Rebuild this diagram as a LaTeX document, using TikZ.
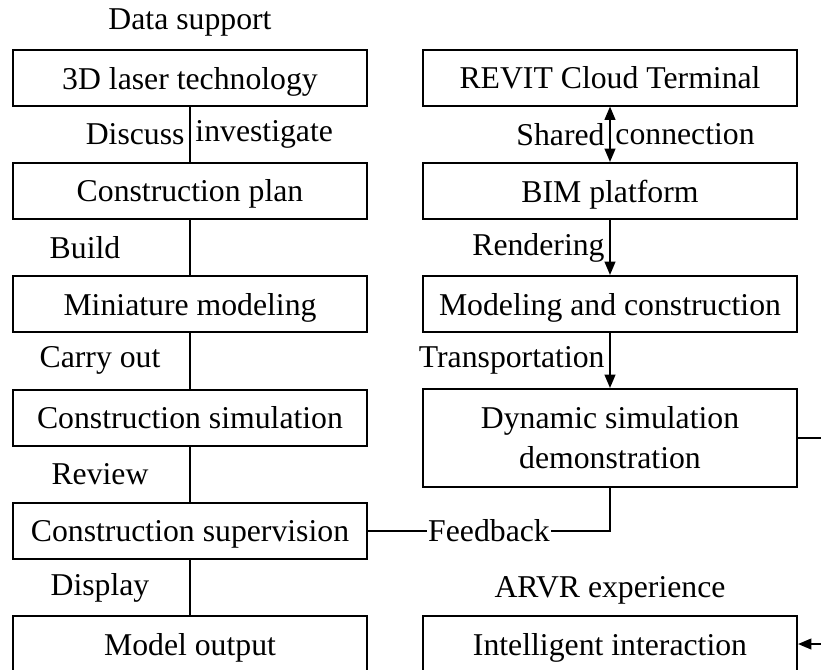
\documentclass[tikz,border=0pt]{standalone}
\usepackage{fontspec}
\setmainfont{Liberation Serif}
\usetikzlibrary{arrows.meta}

\begin{document}
\begin{tikzpicture}[x=0.75pt,y=-0.75pt,line width=1.5pt,
  every node/.style={font=\fontsize{23.8}{30}\selectfont},
  box/.style={draw,minimum height=42pt,inner sep=0pt,align=center},
  lbox/.style={box,minimum width=265.5pt,text height=22pt,text depth=5pt},
  rbox/.style={box,minimum width=280.5pt},
  >={Triangle[length=10pt,width=8pt]}]
\useasboundingbox (0,0) rectangle (821,669);
\node (tdata) at (190,22) {Data support};
\node[lbox] (a1) at (190,78) {3D laser technology};
\node[lbox] (a2) at (190,190.5) {Construction plan};
\node[lbox] (a3) at (190,304) {Miniature modeling};
\node[lbox] (a4) at (190,417.5) {Construction simulation};
\node[lbox] (a5) at (190,530.5) {Construction supervision};
\node[lbox] (a6) at (190,644) {Model output};
\node[rbox,text height=22pt,text depth=5pt] (b1) at (610,77.5) {REVIT Cloud Terminal};
\node[rbox,text height=22pt,text depth=5pt] (b2) at (610,191) {BIM platform};
\node[rbox,text height=22pt,text depth=5pt] (b3) at (610,304) {Modeling and construction};
\node[rbox,minimum height=73.5pt] (b4) at (610,438) {Dynamic simulation\\demonstration};
\node (tarvr) at (610,590) {ARVR experience};
\node[rbox,text height=22pt,text depth=5pt] (b5) at (610,644) {Intelligent interaction};
\coordinate (e1) at (821,438);
\coordinate (e2) at (821,644);
\draw (a1) -- node[left]{Discuss} node[right]{investigate} (a2);
\draw (a2) -- (a3); \node (lbuild) at (85,248) {Build};
\draw (a3) -- (a4); \node (lcarry) at (100,360) {Carry out};
\draw (a4) -- (a5); \node (lreview) at (100,474) {Review};
\draw (a5) -- (a6); \node (ldisplay) at (100,588) {Display};
\draw[<->] (b1) -- node[left]{Shared} node[right]{connection} (b2);
\draw[->] (b2) -- node[left]{Rendering} (b3);
\draw[->] (b3) -- node[left]{Transportation} (b4);
\draw (b4.south) |- node[pos=.75,fill=white,inner sep=1pt]{Feedback} (a5.east);
\draw (b4.east) -- (e1);
\draw[->] (e2) -- (b5.east);
\end{tikzpicture}
\end{document}
